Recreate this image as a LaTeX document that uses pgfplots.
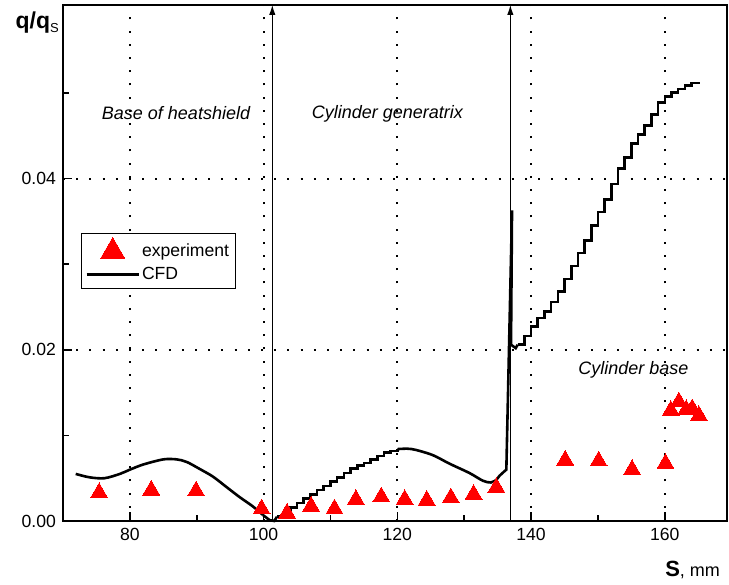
\documentclass[border=0pt]{standalone}
\usepackage{fontspec}
\setmainfont{Liberation Sans}
\usepackage{pgfplots}
\pgfplotsset{compat=1.18}
\usetikzlibrary{arrows.meta,calc}
\pgfplotsset{
  triLegend/.style={legend image code/.code={%
    \draw[mark repeat=2,mark phase=2,##1,mark size=6.9pt]
      plot coordinates {(0pt,0pt) (13pt,0pt) (26pt,0pt)};}},
  lineLegend/.style={legend image code/.code={%
    \draw[##1] (0pt,0pt) -- (26pt,0pt);}},
}

\begin{document}
\begin{tikzpicture}
\begin{axis}[
  name=ax,
  scale only axis,
  width=332pt, height=258pt,
  xmin=70, xmax=169.3,
  ymin=0, ymax=0.0603,
  clip=false,
  xtick={80,100,120,140,160},
  minor xtick={90,110,130,150},
  ytick={0,0.02,0.04},
  minor ytick={0.01,0.03,0.05},
  tick pos=left,
  tick align=inside,
  major tick length=4.5pt, minor tick length=2.8pt,
  every tick/.style={black, line width=0.8pt},
  axis line style={line width=1pt},
  grid=major,
  major grid style={black, line width=1pt, dash pattern=on 1pt off 5.6pt},
  scaled y ticks=false,
  yticklabel style={/pgf/number format/.cd, fixed, fixed zerofill, precision=2},
  /pgf/number format/assume math mode=true,
  tick label style={font=\fontsize{8.8}{10}\selectfont},
  legend style={at={(0.027,0.559)}, anchor=north west, draw=black,
    line width=0.5pt, font=\fontsize{8.8}{10}\selectfont,
    inner xsep=2pt, inner ysep=2.2pt, row sep=2pt,
    nodes={inner sep=1pt}},
  legend cell align={left},
]
% experiment
\addplot[only marks, mark=triangle*, mark size=4.9pt, color=red,
  mark options={fill=red, draw=red, line width=0pt}, triLegend]
  coordinates {
  (75.4,0.0033) (83.2,0.0036) (89.9,0.0035) (99.7,0.0014) (103.5,0.0009)
  (107.1,0.0017) (110.6,0.0014) (113.8,0.0025) (117.6,0.0028) (121.1,0.0025)
  (124.4,0.0024) (128.0,0.0027) (131.4,0.0031) (134.8,0.0039) (145.1,0.0071)
  (150.1,0.0070) (155.1,0.0060) (160.1,0.0067) (160.9,0.0129) (162.1,0.0139)
  (163.2,0.0130) (164.1,0.0131) (165.1,0.0123)
  };
\addlegendentry{experiment}
% CFD, heatshield base
\addplot[black, line width=1.3pt, smooth, lineLegend]
  coordinates {
  (71.9,0.0055) (74.0,0.0051) (76.2,0.0050) (78.5,0.0055) (80.0,0.0060)
  (82.0,0.0066) (85.0,0.0072) (87.0,0.0072) (88.5,0.0069) (90.4,0.0061)
  (92.4,0.0052) (94.4,0.0040) (96.4,0.0028) (98.4,0.0017) (99.9,0.0007)
  };
\addlegendentry{CFD}
\addplot[black, line width=1.3pt, forget plot] coordinates {
  (99.9,0.0007) (100.9,0.0001) (101.6,0.0) (102,0.0005)
  };
% cylinder generatrix, rising part with steps
\addplot[black, line width=1.3pt, const plot, forget plot] coordinates {
  (102,0.0005) (103,0.0010) (104,0.0016) (105,0.0021) (106,0.0026)
  (107,0.0031) (108,0.0036) (109,0.0041) (110,0.0046) (111,0.0051)
  (112,0.0056) (113,0.0061) (114,0.0065) (115,0.0068) (116,0.0072)
  (117,0.0076) (118,0.0080) (119,0.0082) (120,0.0084)
  };
\addplot[black, line width=1.3pt, smooth, forget plot] coordinates {
  (120,0.0084) (121.5,0.00845) (122.8,0.0083) (125.3,0.0077) (127.8,0.0067)
  (130.8,0.0056) (132.8,0.0047) (134.0,0.0045) (134.8,0.0048)
  };
% spike at the corner
\addplot[black, line width=1.3pt, forget plot] coordinates {
  (134.8,0.0048) (135.3,0.0053) (136.0,0.0058) (136.3,0.0060)
  (137.15,0.0363) (137.0,0.0206) (137.7,0.0202) (138,0.0206)
  };
% cylinder base, staircase
\addplot[black, line width=1.3pt, const plot, forget plot] coordinates {
  (138,0.0206) (139,0.0216) (140,0.0227) (141,0.0237) (142,0.0245)
  (143,0.0256) (144,0.0268) (145,0.0283) (146,0.0298) (147,0.0313)
  (148,0.0328) (149,0.0345) (150,0.0361) (151,0.0376) (152,0.0394)
  (153,0.0412) (154,0.0425) (155,0.0441) (156,0.0452) (157,0.0462)
  (158,0.0475) (159,0.0489) (160,0.0496) (161,0.0501) (162,0.0505)
  (163,0.0509) (164,0.0512) (165.1,0.0513)
  };
% region boundaries
\draw[line width=0.5pt, -{Latex[length=5pt,width=3.2pt]}]
  (axis cs:101.3,0) -- (axis cs:101.3,0.0603);
\draw[line width=0.5pt, -{Latex[length=5pt,width=3.2pt]}]
  (axis cs:136.9,0) -- (axis cs:136.9,0.0603);
\node[font=\itshape\fontsize{9}{11}\selectfont] at (axis cs:86.9,0.0477) {Base of heatshield};
\node[font=\itshape\fontsize{9}{11}\selectfont] at (axis cs:118.5,0.0476) {Cylinder generatrix};
\node[font=\itshape\fontsize{9}{11}\selectfont] at (axis cs:155.3,0.0177) {Cylinder base};
\node[anchor=base west] at (axis description cs:-0.082,0.9535)
  {\fontsize{11.5}{13}\selectfont\textbf{q/q}\raisebox{-2pt}{\fontsize{6.5}{7}\selectfont S}};
\node[anchor=base east] at (axis description cs:1,-0.1085)
  {\fontsize{11}{13}\selectfont\textbf{S}\fontsize{9}{11}\selectfont, mm};
\end{axis}
\pgfresetboundingbox
\path[use as bounding box] ($(ax.south west)+(-31.5pt,-32pt)$) rectangle ($(ax.north east)+(1pt,2.5pt)$);
\end{tikzpicture}
\end{document}
